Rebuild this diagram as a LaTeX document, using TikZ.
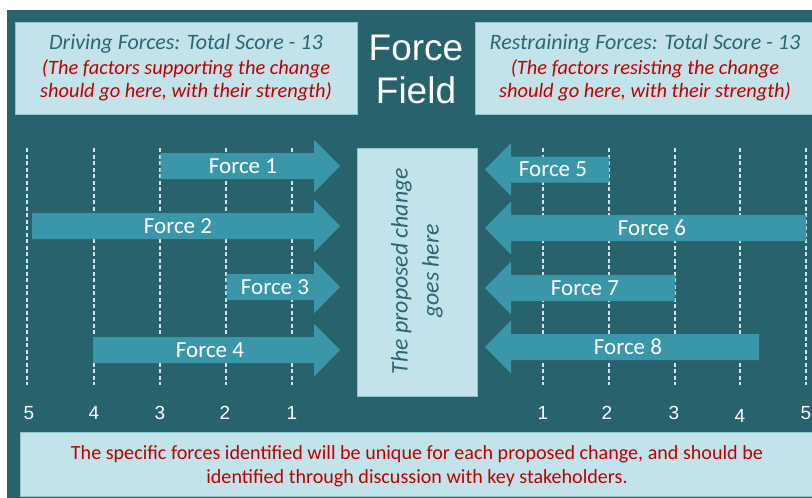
\documentclass[tikz,border=0pt]{standalone}
\usepackage{fontspec}
\setmainfont{Carlito}
\newfontfamily\arialf{Liberation Sans}
\definecolor{bgc}{HTML}{28626D}
\definecolor{arrc}{HTML}{3A97A9}
\definecolor{lightc}{HTML}{C3E3EA}
\definecolor{edgec}{HTML}{8FC3CE}
\definecolor{darkt}{HTML}{2B6673}
\definecolor{redt}{HTML}{C00000}
\definecolor{dashc}{HTML}{D2E4E8}
\newcommand\rarr[2]{\fill[arrc] (#1,#2-13) -- (314,#2-13) -- (314,#2-26.5) -- (340,#2) -- (314,#2+26.5) -- (314,#2+13) -- (#1,#2+13) -- cycle;}
\newcommand\larr[2]{\fill[arrc] (#1,#2-13) -- (511,#2-13) -- (511,#2-26.5) -- (485,#2) -- (511,#2+26.5) -- (511,#2+13) -- (#1,#2+13) -- cycle;}
\begin{document}
\begin{tikzpicture}[x=1pt,y=-1pt,
  lbox/.style={draw=edgec, line width=0.8pt, fill=lightc, inner sep=0pt},
  hdr/.style={anchor=base, font=\fontsize{22}{24}\selectfont\itshape, text=darkt, inner sep=0pt},
  hred/.style={anchor=base, font=\fontsize{20.4}{24}\selectfont\itshape, text=redt, inner sep=0pt},
  flab/.style={font=\fontsize{23}{26}\selectfont, text=white, inner sep=0pt},
  numlab/.style={anchor=base, font=\arialf\fontsize{19}{20}\selectfont, text=white, inner sep=0pt},
  ttl/.style={anchor=base, font=\arialf\fontsize{37}{40}\selectfont, text=white, inner sep=0pt},
  scaleline/.style={draw=dashc, line width=1.4pt, dash pattern=on 4pt off 2.5pt}]
\useasboundingbox (0,0) rectangle (812,498);
\fill[white] (0,0) rectangle (812,498);
\fill[bgc] (7,10) rectangle (812,498);

% header boxes
\node[lbox, minimum width=342pt, minimum height=92pt] (lhbox) at (186,68) {};
\node[lbox, minimum width=340pt, minimum height=92pt] (rhbox) at (645,68) {};
\node[hdr] (l1) at (186,49) {Driving Forces: Total Score - 13};
\node[hred] (l2) at (186,74) {(The factors supporting the change};
\node[hred] (l3) at (186,97) {should go here, with their strength)};
\node[hdr] (r1) at (645,49) {Restraining Forces: Total Score - 13};
\node[hred] (r2) at (645,74) {(The factors resisting the change};
\node[hred] (r3) at (645,97) {should go here, with their strength)};

% title
\node[ttl] (t1) at (416,60) {Force};
\node[ttl] (t2) at (416,103) {Field};

% scale lines
\foreach \x in {27,94,160,226,292,543,609,675,740,806}
  \draw[scaleline] (\x,148) -- (\x,385);

% arrows
\rarr{160.5}{166}
\rarr{32}{226}
\rarr{226.5}{287}
\rarr{93}{350}
\larr{609}{169.5}
\larr{806}{228}
\larr{675}{288}
\larr{759}{347}

\node[flab] (f1) at (243,166) {Force 1};
\node[flab] (f2) at (178,226) {Force 2};
\node[flab] (f3) at (275,287) {Force 3};
\node[flab] (f4) at (210,350) {Force 4};
\node[flab] (f5) at (553,169.5) {Force 5};
\node[flab] (f6) at (652,228) {Force 6};
\node[flab] (f7) at (585,288) {Force 7};
\node[flab] (f8) at (628,347) {Force 8};

% center box
\node[lbox, minimum width=120pt, minimum height=248pt] (cbox) at (417,272) {};
\node[rotate=90, align=center, font=\fontsize{23.8}{31}\selectfont\itshape, text=darkt, inner sep=0pt] (ctext) at (417,271) {The proposed change\\goes here};

% numbers
\node[numlab] (n5l) at (29,419) {5};
\node[numlab] (n4l) at (94,419) {4};
\node[numlab] (n3l) at (160,419) {3};
\node[numlab] (n2l) at (225,419) {2};
\node[numlab] (n1l) at (292,419) {1};
\node[numlab] (n1r) at (543,419) {1};
\node[numlab] (n2r) at (607,419) {2};
\node[numlab] (n3r) at (674,419) {3};
\node[numlab] (n4r) at (740,422) {4};
\node[numlab] (n5r) at (806,419) {5};

% bottom box
\node[lbox, minimum width=792pt, minimum height=64pt] (bbox) at (416,464) {};
\node[anchor=base, font=\fontsize{20.1}{24}\selectfont, text=redt, inner sep=0pt] (b1) at (417,459) {The specific forces identified will be unique for each proposed change, and should be};
\node[anchor=base, font=\fontsize{20.1}{24}\selectfont, text=redt, inner sep=0pt] (b2) at (417,483) {identified through discussion with key stakeholders.};
\end{tikzpicture}
\end{document}
